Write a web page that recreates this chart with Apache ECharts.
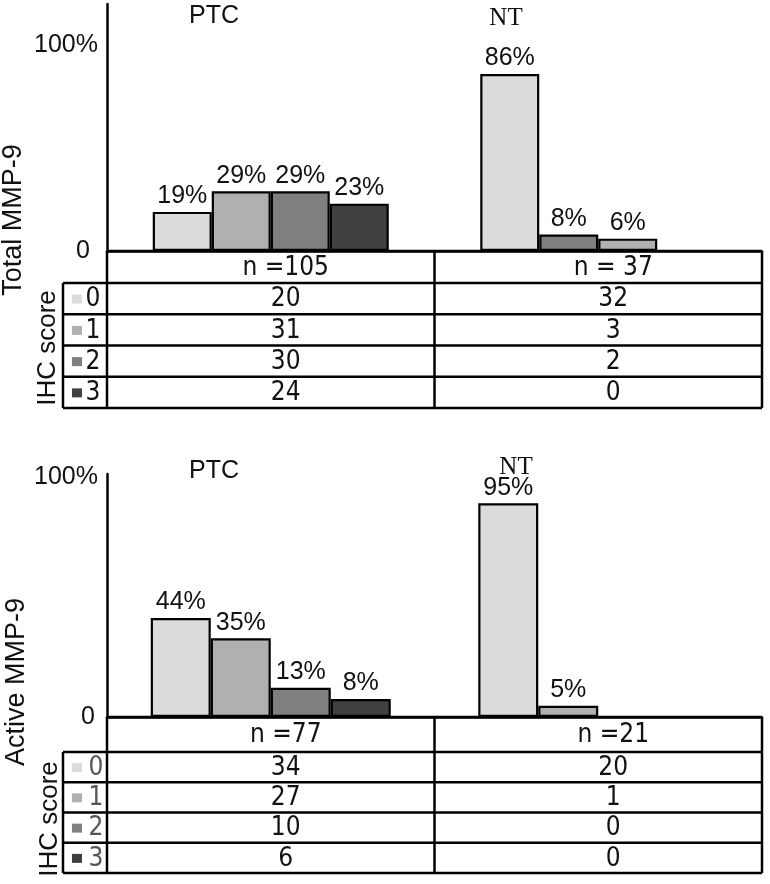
<!DOCTYPE html>
<html>
<head>
<meta charset="utf-8">
<script src="https://cdn.jsdelivr.net/npm/echarts@6/dist/echarts.min.js"></script>
<style>html,body{margin:0;padding:0;background:#fff}#c{width:770px;height:884px}</style>
</head>
<body>
<div id="c"></div>
<script>
// ---------- data ----------
const categories = ['PTC', 'NT'];
const scoreLabels = ['0', '1', '2', '3'];
const yTickLabels = ['0', '100%'];

const totalPctPTC = [19, 29, 29, 23];
const totalPctNT = [86, 8, 6, null];
const activePctPTC = [44, 35, 13, 8];
const activePctNT = [95, 5, null, null];

const totalHeader = ['n =105', 'n = 37'];
const activeHeader = ['n =77', 'n =21'];

const totalCountsPTC = [20, 31, 30, 24];
const totalCountsNT = [32, 3, 2, 0];
const activeCountsPTC = [34, 27, 10, 6];
const activeCountsNT = [20, 1, 0, 0];

const totalTitle = 'Total MMP-9';
const activeTitle = 'Active MMP-9';
const scoreTitle = 'IHC score';

// ---------- style / layout ----------
const scoreColors = ['#dcdcdc', '#b0b0b0', '#7f7f7f', '#404040'];
const SANS = '"Liberation Sans", Arial, sans-serif';
const NARROW = '"Liberation Sans Narrow", "DejaVu Sans Condensed", sans-serif';
const SERIF = '"Liberation Serif", "DejaVu Serif", serif';
const LEFT = 107, RIGHT = 762, SCORE_LEFT = 63;
const LW = 2.5;
const TEXT_SHIFT = 15;

const panels = [
  {
    top: 4, base: 251, max: 120, headerBottom: 283, tableBottom: 408,
    pct: [totalPctPTC, totalPctNT], header: totalHeader,
    counts: [totalCountsPTC, totalCountsNT],
    title: totalTitle, titleX: 14, titleY: 220, ihcX: 48, ihcY: 348,
    catTitles: [{x: 214, y: 16, font: SANS}, {x: 506, y: 18, font: SERIF}],
    barWidth: 59, zeroPad: 8, topPad: 0, digitX: 93, digitColor: '#111',
    // the NT bars of this panel use swapped greys in the figure
    colorOverride: {1: {1: '#7f7f7f'}, 2: {1: '#b0b0b0'}}
  },
  {
    top: 474, base: 717, max: 108, headerBottom: 752, tableBottom: 873,
    pct: [activePctPTC, activePctNT], header: activeHeader,
    counts: [activeCountsPTC, activeCountsNT],
    title: activeTitle, titleX: 17, titleY: 682, ihcX: 50, ihcY: 819,
    catTitles: [{x: 214, y: 471, font: SANS}, {x: 516, y: 467, font: SERIF}],
    barWidth: 60, zeroPad: 3, topPad: 30, digitX: 96, digitColor: '#555',
    colorOverride: {}
  }
];

const grids = [], xAxes = [], yAxes = [], series = [], graphics = [];

panels.forEach((p, pi) => {
  grids.push({left: LEFT, width: RIGHT - LEFT, top: p.top, height: p.base - p.top});
  xAxes.push({
    type: 'category', gridIndex: pi, data: categories,
    axisLine: {show: true, lineStyle: {color: '#000', width: LW}},
    axisTick: {show: false}, axisLabel: {show: false}, splitLine: {show: false}
  });
  yAxes.push({
    type: 'value', gridIndex: pi, min: 0, max: p.max, interval: 100,
    axisLine: {show: true, lineStyle: {color: '#000', width: LW}},
    axisTick: {show: false}, splitLine: {show: false},
    axisLabel: {
      margin: 9, showMaxLabel: false,
      formatter: v => v === 100 ? '{a|' + yTickLabels[1] + '}' : (v === 0 ? '{z|' + yTickLabels[0] + '}' : ''),
      rich: {
        a: {fontSize: 25, fontFamily: SANS, color: '#111', padding: [0, 0, p.topPad, 0]},
        z: {fontSize: 25, fontFamily: SANS, color: '#111', padding: [0, p.zeroPad, 0, 0]}
      }
    }
  });
  scoreLabels.forEach((s, si) => {
    const ov = p.colorOverride[si] || {};
    series.push({
      type: 'bar', name: 'IHC ' + s, xAxisIndex: pi, yAxisIndex: pi,
      data: categories.map((c, ci) => p.pct[ci][si]),
      barWidth: p.barWidth, barGap: '0%',
      itemStyle: {
        color: prm => ov[prm.dataIndex] || scoreColors[si],
        borderColor: '#000', borderWidth: 2.2
      },
      label: {
        show: true, position: 'top', distance: 3,
        formatter: prm => prm.value == null ? '' : prm.value + '%',
        fontSize: 25, fontFamily: SANS, color: '#111'
      },
      animation: false
    });
  });

  // category titles
  categories.forEach((c, ci) => {
    graphics.push({type: 'text', x: p.catTitles[ci].x, y: p.catTitles[ci].y,
      style: {text: c, fontSize: 25, fontFamily: p.catTitles[ci].font, fill: '#111',
        textAlign: 'center', textVerticalAlign: 'middle'}});
  });

  // rotated titles
  graphics.push({type: 'text', x: p.titleX, y: p.titleY, rotation: Math.PI / 2,
    style: {text: p.title, fontSize: 27, fontFamily: SANS, fill: '#111', textAlign: 'center', textVerticalAlign: 'middle'}});
  graphics.push({type: 'text', x: p.ihcX, y: p.ihcY, rotation: Math.PI / 2,
    style: {text: scoreTitle, fontSize: 26, fontFamily: SANS, fill: '#111', textAlign: 'center', textVerticalAlign: 'middle'}});

  // table
  const mid = LEFT + (RIGHT - LEFT) / categories.length;
  const colCenters = categories.map((c, ci) => LEFT + (RIGHT - LEFT) * (ci + 0.5) / categories.length + TEXT_SHIFT);
  const rowH = (p.tableBottom - p.headerBottom) / scoreLabels.length;
  const line = (x1, y1, x2, y2) => graphics.push({type: 'line', shape: {x1, y1, x2, y2},
    style: {stroke: '#000', lineWidth: LW}, z: 10});
  line(LEFT, p.base, RIGHT, p.base);
  line(LEFT, p.base, LEFT, p.tableBottom);
  line(RIGHT, p.base, RIGHT, p.tableBottom);
  line(mid, p.base, mid, p.tableBottom);
  line(SCORE_LEFT, p.headerBottom, SCORE_LEFT, p.tableBottom);
  for (let r = 0; r <= scoreLabels.length; r++) {
    const y = p.headerBottom + r * rowH;
    line(SCORE_LEFT, y, RIGHT, y);
  }
  // header
  p.header.forEach((h, ci) => {
    graphics.push({type: 'text', x: colCenters[ci], y: (p.base + p.headerBottom) / 2 + 1,
      style: {text: h, fontSize: 26, fontFamily: NARROW, fill: '#111', textAlign: 'center', textVerticalAlign: 'middle'}});
  });
  // rows
  scoreLabels.forEach((s, si) => {
    const yc = p.headerBottom + (si + 0.5) * rowH + 1;
    graphics.push({type: 'rect', shape: {x: 72, y: yc - 5, width: 10, height: 9},
      style: {fill: scoreColors[si]}});
    graphics.push({type: 'text', x: p.digitX, y: yc,
      style: {text: s, fontSize: 26, fontFamily: NARROW, fill: p.digitColor, textAlign: 'center', textVerticalAlign: 'middle'}});
    categories.forEach((c, ci) => {
      graphics.push({type: 'text', x: colCenters[ci], y: yc,
        style: {text: String(p.counts[ci][si]), fontSize: 26, fontFamily: NARROW, fill: '#111',
          textAlign: 'center', textVerticalAlign: 'middle'}});
    });
  });
});

const chart = echarts.init(document.getElementById('c'), null, {renderer: 'canvas'});
chart.setOption({
  animation: false,
  backgroundColor: '#fff',
  grid: grids, xAxis: xAxes, yAxis: yAxes, series: series,
  graphic: {elements: graphics}
});
</script>
</body>
</html>
